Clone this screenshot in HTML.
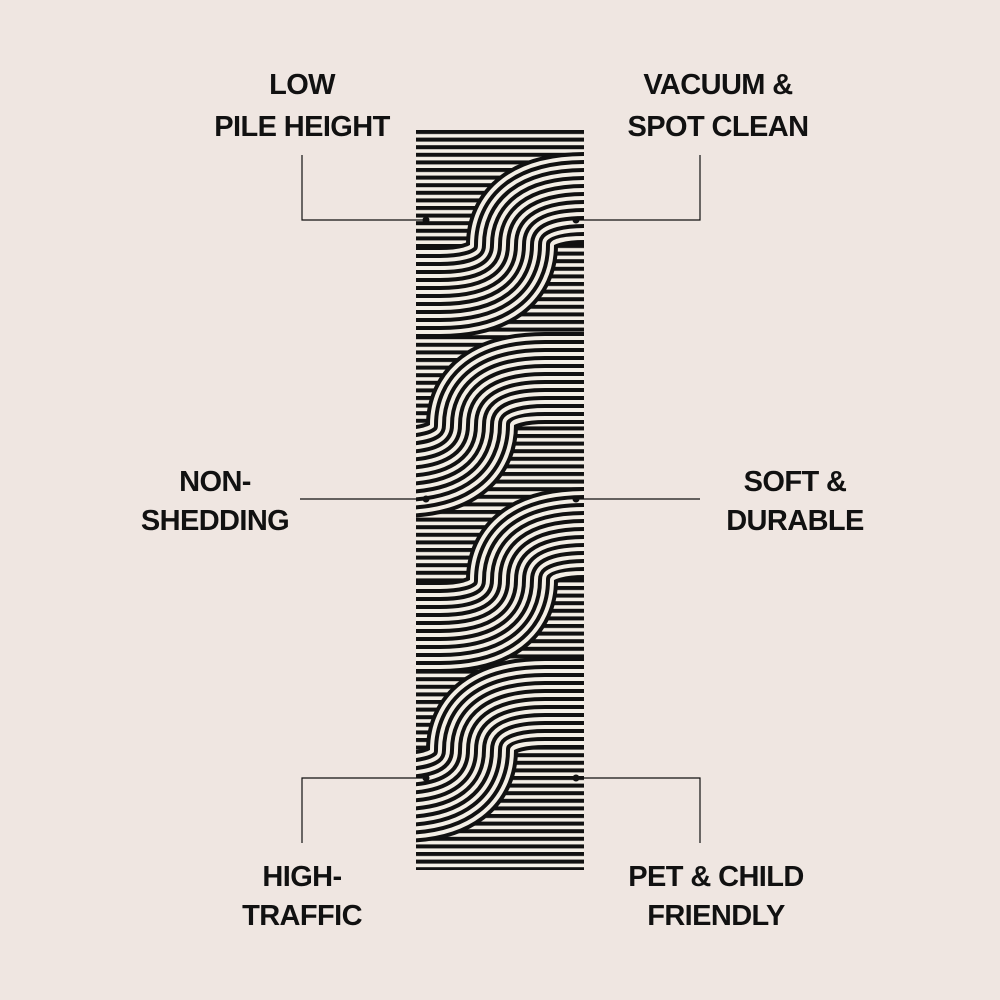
<!DOCTYPE html>
<html><head><style>
html,body{margin:0;padding:0;background:#efe6e1;}
svg{display:block}
text{font-family:"Liberation Sans",Arial,sans-serif;font-weight:bold;font-size:29px;fill:#111;text-anchor:middle;letter-spacing:-0.6px}
</style></head><body>
<svg width="1000" height="1000" viewBox="0 0 1000 1000">
<defs>
<pattern id="st" x="0" y="130" width="10" height="7.6" patternUnits="userSpaceOnUse">
<rect width="10" height="7.6" fill="#f4efe6"/><rect width="10" height="4" fill="#111"/>
</pattern>
<clipPath id="rc"><rect x="416" y="130" width="168" height="740"/></clipPath>
<g id="band">
<use href="#p" stroke="#111" stroke-width="92"/>
<use href="#p" stroke="#f4efe6" stroke-width="84"/>
<use href="#p" stroke="#111" stroke-width="76"/>
<use href="#p" stroke="#f4efe6" stroke-width="68"/>
<use href="#p" stroke="#111" stroke-width="60"/>
<use href="#p" stroke="#f4efe6" stroke-width="52"/>
<use href="#p" stroke="#111" stroke-width="44"/>
<use href="#p" stroke="#f4efe6" stroke-width="36"/>
<use href="#p" stroke="#111" stroke-width="28"/>
<use href="#p" stroke="#f4efe6" stroke-width="20"/>
<use href="#p" stroke="#111" stroke-width="12"/>
<use href="#p" stroke="#f4efe6" stroke-width="4"/>
</g>
<path id="p" fill="none" d="M640 198 L585 198 C530 198 512 220 512 245 C512 270 494 292 440 292 L360 292"/>
</defs>
<rect x="416" y="130" width="168" height="740" fill="url(#st)"/>
<g clip-path="url(#rc)">
<g transform="translate(0,0)"><use href="#band"/></g>
<g transform="translate(-40,180)"><use href="#band"/></g>
<g transform="translate(0,335)"><use href="#band"/></g>
<g transform="translate(-40,505)"><use href="#band"/></g>
</g>
<g stroke="#111" stroke-width="1.2" fill="none">
<path d="M302 155 V220 H426"/>
<path d="M700 155 V220 H576"/>
<path d="M300 499 H426"/>
<path d="M576 499 H700"/>
<path d="M302 843 V778 H426"/>
<path d="M700 843 V778 H576"/>
</g>
<g fill="#111">
<circle cx="426" cy="220" r="3.5"/><circle cx="576" cy="220" r="3.5"/>
<circle cx="426" cy="499" r="3.5"/><circle cx="576" cy="499" r="3.5"/>
<circle cx="426" cy="778" r="3.5"/><circle cx="576" cy="778" r="3.5"/>
</g>
<text x="302" y="94">LOW</text>
<text x="302" y="136">PILE HEIGHT</text>
<text x="718" y="94">VACUUM &amp;</text>
<text x="718" y="136">SPOT CLEAN</text>
<text x="215" y="491">NON-</text>
<text x="215" y="530">SHEDDING</text>
<text x="795" y="491">SOFT &amp;</text>
<text x="795" y="530">DURABLE</text>
<text x="302" y="886">HIGH-</text>
<text x="302" y="925">TRAFFIC</text>
<text x="716" y="886">PET &amp; CHILD</text>
<text x="716" y="925">FRIENDLY</text>
</svg>
</body></html>
